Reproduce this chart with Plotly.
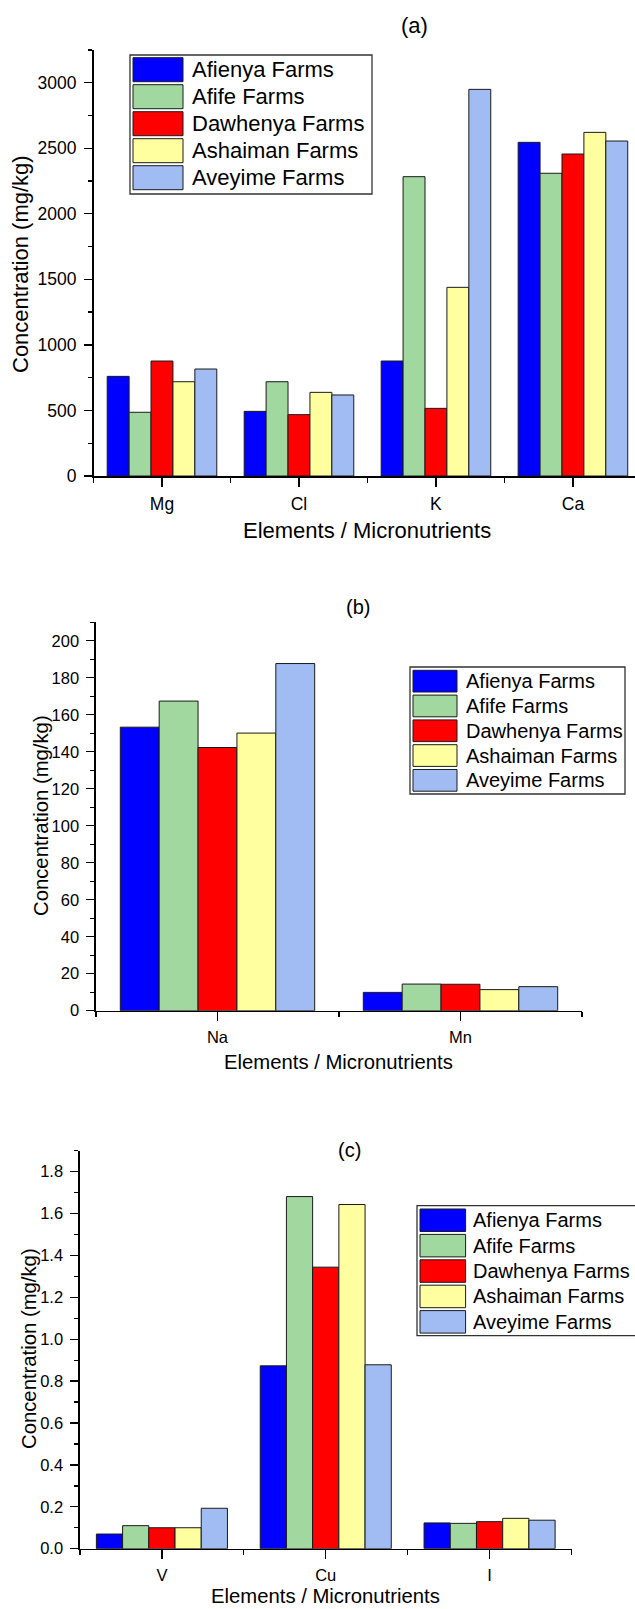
import plotly.graph_objects as go

W, H = 635, 1609

farms = ["Afienya Farms", "Afife Farms", "Dawhenya Farms", "Ashaiman Farms", "Aveyime Farms"]
colors = ["#0000FF", "#A0D8A0", "#FF0000", "#FFFFA0", "#A0BCF2"]

# Panel (a)
elements_a = ["Mg", "Cl", "K", "Ca"]
afienya_a = [760, 493, 877, 2545]
afife_a = [486, 719, 2283, 2309]
dawhenya_a = [877, 468, 516, 2456]
ashaiman_a = [719, 638, 1439, 2621]
aveyime_a = [816, 618, 2949, 2555]

# Panel (b)
elements_b = ["Na", "Mn"]
afienya_b = [153.3, 9.9]
afife_b = [167.4, 14.4]
dawhenya_b = [142.3, 14.3]
ashaiman_b = [150.1, 11.4]
aveyime_b = [187.7, 13.0]

# Panel (c)
elements_c = ["V", "Cu", "I"]
afienya_c = [0.07, 0.873, 0.123]
afife_c = [0.11, 1.681, 0.121]
dawhenya_c = [0.10, 1.344, 0.129]
ashaiman_c = [0.10, 1.643, 0.145]
aveyime_c = [0.193, 0.878, 0.136]

x_title = "Elements / Micronutrients"
y_title = "Concentration (mg/kg)"

FONT = "Liberation Sans, Arial, sans-serif"


def px_x(p):
    return p / W


def px_y(p):
    return 1 - p / H


panels = [
    dict(elements=elements_a,
         series=[afienya_a, afife_a, dawhenya_a, ashaiman_a, aveyime_a],
         xdom=(93.5, 635), ydom=(476, 49.9), xrange=[-0.5, 3.453], yrange=[0, 3250],
         dtick=500, mdtick=250, fmt="d", tickfs=17.5,
         title="(a)", title_xy=(415, 25), title_fs=22,
         xt=(367, 530), yt=(21, 264), axt_fs=22,
         legend=dict(box=(130, 372, 55, 194), sw=(133, 183), top=57.7, pitch=27, h=24,
                     tx=190, fs=22)),
    dict(elements=elements_b,
         series=[afienya_b, afife_b, dawhenya_b, ashaiman_b, aveyime_b],
         xdom=(96, 582), ydom=(1010.7, 622.3), xrange=[-0.5, 1.5], yrange=[0, 210],
         dtick=20, mdtick=10, fmt="d", tickfs=16.5,
         title="(b)", title_xy=(357.5, 606.7), title_fs=20,
         xt=(338.7, 1061.7), yt=(41, 816), axt_fs=20.3,
         legend=dict(box=(410, 625, 667, 794), sw=(413, 457), top=670.3, pitch=24.8, h=21.7,
                     tx=463.6, fs=20)),
    dict(elements=elements_c,
         series=[afienya_c, afife_c, dawhenya_c, ashaiman_c, aveyime_c],
         xdom=(80, 571.5), ydom=(1548.7, 1150.7), xrange=[-0.5, 2.5], yrange=[0, 1.9],
         dtick=0.2, mdtick=0.1, fmt=".1f", tickfs=16.5,
         title="(c)", title_xy=(349, 1150), title_fs=20,
         xt=(325.5, 1596), yt=(29, 1349), axt_fs=20.3,
         legend=dict(box=(417, 640, 1205.7, 1335.7), sw=(420, 465.6), top=1209, pitch=25.4, h=22.5,
                     tx=470.5, fs=20)),
]

fig = go.Figure()
shapes = []
annotations = []
layout = {}

for i, p in enumerate(panels):
    suffix = "" if i == 0 else str(i + 1)
    xs = list(range(len(p["elements"])))
    for farm, col, vals in zip(farms, colors, p["series"]):
        fig.add_trace(go.Bar(
            x=xs, y=vals, name=farm, marker_color=col,
            marker_line_color="#1a1a1a", marker_line_width=1,
            xaxis="x" + suffix, yaxis="y" + suffix, showlegend=False,
        ))
    boundaries = [k - 0.5 for k in range(len(xs) + 1)]
    layout["xaxis" + suffix] = dict(
        domain=[px_x(p["xdom"][0]), px_x(p["xdom"][1])],
        anchor="y" + suffix, range=p["xrange"], type="linear",
        tickmode="array", tickvals=xs, ticktext=p["elements"],
        ticks="outside", ticklen=9, tickwidth=1.3, tickcolor="black",
        ticklabelstandoff=2,
        minor=dict(tickmode="array", tickvals=boundaries, ticks="outside",
                   ticklen=5, tickwidth=1.3, tickcolor="black"),
        showline=True, linecolor="black", linewidth=1.6, showgrid=False,
        zeroline=False, automargin=False, fixedrange=True,
        tickfont=dict(family=FONT, size=p["tickfs"], color="black"),
    )
    layout["yaxis" + suffix] = dict(
        domain=[px_y(p["ydom"][0]), px_y(p["ydom"][1])],
        anchor="x" + suffix, range=p["yrange"], dtick=p["dtick"], tick0=0,
        tickformat=p["fmt"],
        ticks="outside", ticklen=8, tickwidth=1.3, tickcolor="black",
        ticklabelstandoff=4,
        minor=dict(dtick=p["mdtick"], tick0=0, ticks="outside", ticklen=4,
                   tickwidth=1.3, tickcolor="black"),
        showline=True, linecolor="black", linewidth=1.6, showgrid=False,
        zeroline=False, automargin=False, fixedrange=True,
        tickfont=dict(family=FONT, size=p["tickfs"], color="black"),
    )
    # axis titles
    annotations.append(dict(
        text=x_title, x=px_x(p["xt"][0]), y=px_y(p["xt"][1]),
        xref="paper", yref="paper", showarrow=False, xanchor="center", yanchor="middle",
        font=dict(family=FONT, size=p["axt_fs"], color="black")))
    annotations.append(dict(
        text=y_title, x=px_x(p["yt"][0]), y=px_y(p["yt"][1]), textangle=-90,
        xref="paper", yref="paper", showarrow=False, xanchor="center", yanchor="middle",
        font=dict(family=FONT, size=p["axt_fs"], color="black")))
    # panel title
    annotations.append(dict(
        text=p["title"], x=px_x(p["title_xy"][0]), y=px_y(p["title_xy"][1]),
        xref="paper", yref="paper", showarrow=False, xanchor="center", yanchor="middle",
        font=dict(family=FONT, size=p["title_fs"], color="black")))
    # legend (drawn as boxes + text)
    lg = p["legend"]
    shapes.append(dict(type="rect", xref="paper", yref="paper",
                       x0=px_x(lg["box"][0]), x1=px_x(lg["box"][1]),
                       y0=px_y(lg["box"][3]), y1=px_y(lg["box"][2]),
                       line=dict(color="#333333", width=1.3), fillcolor="white", layer="above"))
    for k, (farm, col) in enumerate(zip(farms, colors)):
        t = lg["top"] + k * lg["pitch"]
        shapes.append(dict(type="rect", xref="paper", yref="paper",
                           x0=px_x(lg["sw"][0]), x1=px_x(lg["sw"][1]),
                           y0=px_y(t + lg["h"]), y1=px_y(t),
                           line=dict(color="#1a1a1a", width=1), fillcolor=col, layer="above"))
        annotations.append(dict(
            text=farm, x=px_x(lg["tx"]), y=px_y(t + lg["h"] / 2),
            xref="paper", yref="paper", showarrow=False, xanchor="left", yanchor="middle",
            font=dict(family=FONT, size=lg["fs"], color="black")))

fig.update_layout(
    template="none",
    width=W, height=H,
    margin=dict(l=0, r=0, t=0, b=0, pad=0),
    paper_bgcolor="white", plot_bgcolor="white",
    barmode="group", bargap=0.2, bargroupgap=0,
    showlegend=False, hovermode=False,
    font=dict(family=FONT, color="black"),
    shapes=shapes, annotations=annotations,
    **layout,
)

fig.write_html("out.html",
               config={"displayModeBar": False, "staticPlot": True},
               post_script="document.body.style.margin='0';document.body.style.overflow='hidden';")
